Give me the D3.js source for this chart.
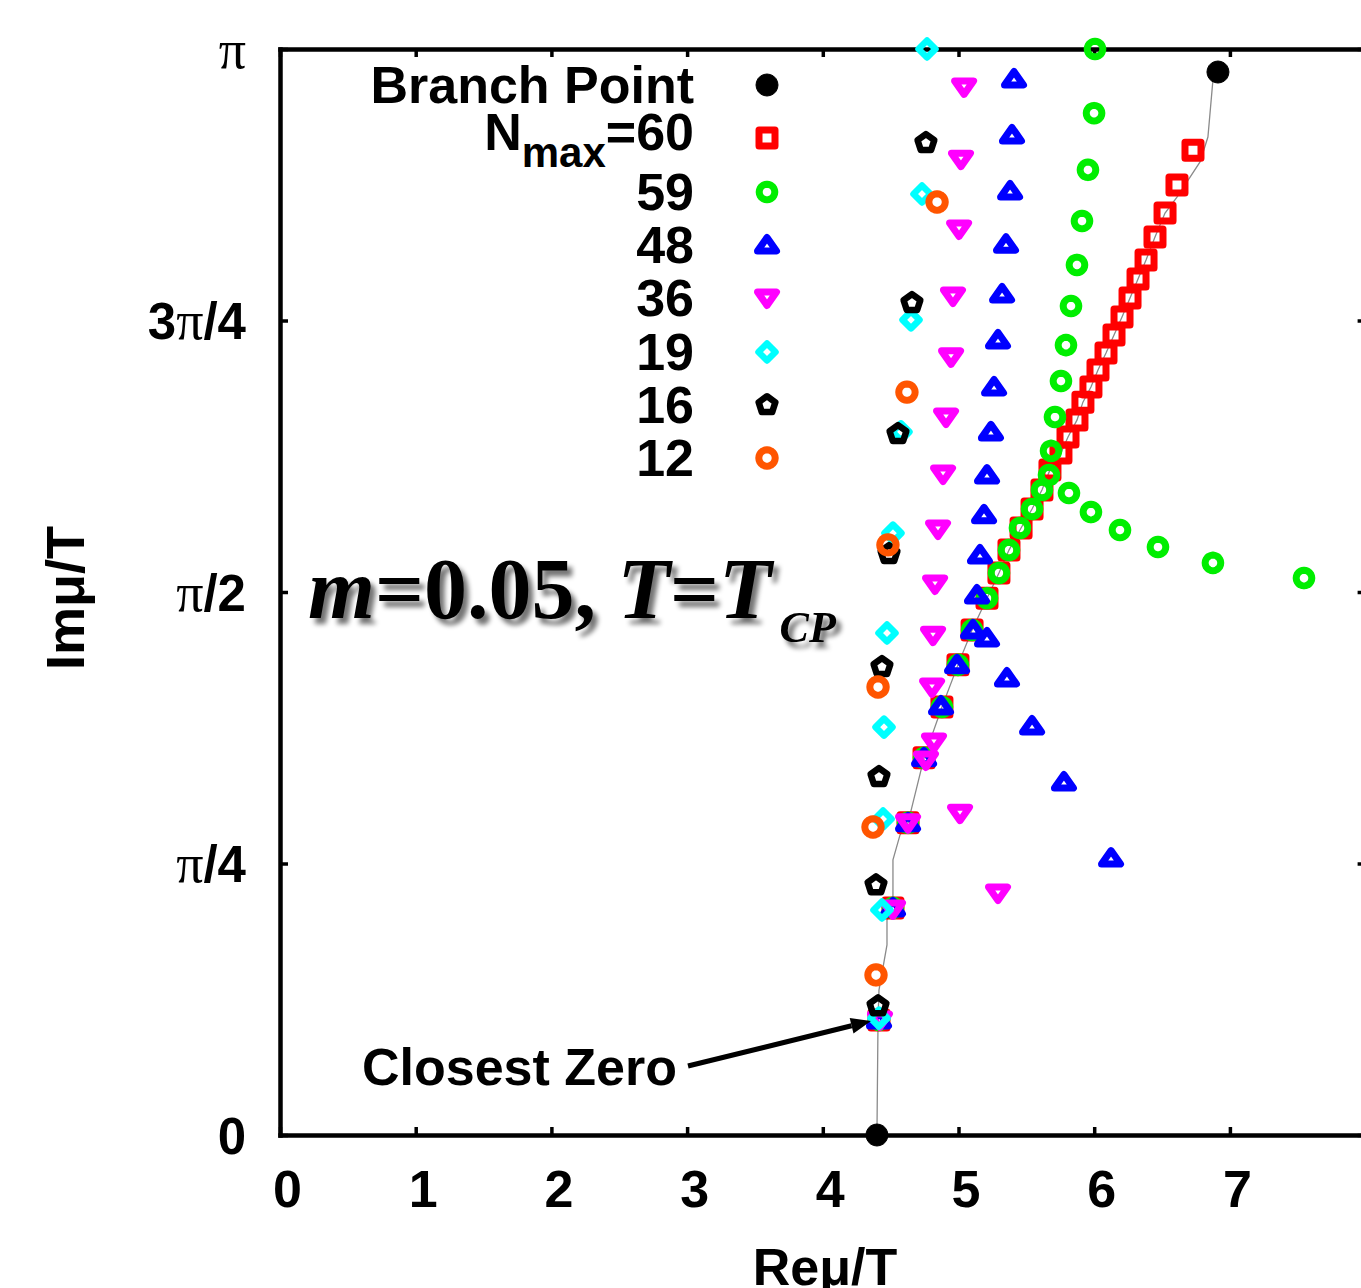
<!DOCTYPE html>
<html><head><meta charset="utf-8">
<script src="https://cdn.jsdelivr.net/npm/d3@7"></script>
<style>body{margin:0;background:#fff}</style>
</head><body><svg id="c" width="1361" height="1288"></svg>
<script>
const PI = Math.PI;
// ---- data (Re mu/T, Im mu/T) ----
const branchRe = [6.912, 4.399];
const branchIm = [3.075, 0];

const n60Re = [4.414,4.517,4.628,4.746,4.878,4.996,5.100,5.210,5.298,5.372,5.461,5.542,5.615,5.674,5.755,5.807,5.873,5.917,5.976,6.028,6.087,6.146,6.205,6.264,6.323,6.382,6.448,6.522,6.610,6.728];
const n60Im = [0.333,0.657,0.903,1.091,1.238,1.360,1.461,1.553,1.626,1.692,1.756,1.811,1.866,1.924,1.973,2.019,2.068,2.120,2.164,2.213,2.262,2.314,2.366,2.421,2.476,2.531,2.598,2.667,2.748,2.849];

const n59Re = [4.414,4.517,4.628,4.746,4.878,4.996,5.100,5.210,5.298,5.372,5.453,5.542,5.615,5.667,5.682,5.711,5.755,5.792,5.829,5.873,5.910,5.954,5.999,6.006,5.814,5.976,6.190,6.470,6.875,7.546];
const n59Im = [0.333,0.657,0.903,1.091,1.238,1.360,1.461,1.553,1.626,1.692,1.756,1.811,1.866,1.909,1.979,2.077,2.181,2.285,2.398,2.517,2.644,2.792,2.956,3.1416,1.857,1.802,1.750,1.701,1.655,1.611];

const n48Re = [4.414,4.517,4.628,4.746,4.871,4.989,5.107,5.136,5.158,5.188,5.210,5.239,5.262,5.291,5.321,5.350,5.380,5.394,5.409,5.210,5.357,5.542,5.777,6.124];
const n48Im = [0.333,0.657,0.903,1.091,1.241,1.360,1.461,1.562,1.678,1.794,1.909,2.034,2.164,2.300,2.433,2.577,2.731,2.893,3.055,1.438,1.322,1.183,1.021,0.801];

const n36Re = [4.421,4.517,4.628,4.760,4.819,4.805,4.812,4.827,4.849,4.886,4.908,4.945,4.959,5.004,5.018,5.041,5.011,5.291];
const n36Im = [0.333,0.654,0.903,1.085,1.137,1.296,1.446,1.594,1.753,1.912,2.077,2.251,2.427,2.621,2.823,3.032,0.931,0.700];

const n19Re = [4.414,4.436,4.444,4.451,4.473,4.517,4.576,4.650,4.731,4.768];
const n19Im = [0.338,0.651,0.914,1.180,1.452,1.741,2.034,2.358,2.722,3.1416];

const n16Re = [4.407,4.392,4.414,4.436,4.488,4.554,4.657,4.760];
const n16Im = [0.373,0.723,1.036,1.354,1.681,2.028,2.407,2.870];

const n12Re = [4.392,4.370,4.407,4.480,4.620,4.842];
const n12Im = [0.463,0.891,1.296,1.707,2.149,2.699];

const curveRe = [4.399,4.407,4.414,4.473,4.473,4.517,4.517,4.569,4.628,4.746,4.878,4.996,5.100,5.210,5.298,5.372,5.461,5.542,5.615,5.674,5.755,5.807,5.873,5.917,5.976,6.028,6.087,6.146,6.205,6.264,6.323,6.382,6.448,6.522,6.610,6.780,6.838,6.875,6.912];
const curveIm = [0,0.333,0.419,0.550,0.622,0.680,0.796,0.868,0.903,1.091,1.238,1.360,1.461,1.553,1.626,1.692,1.756,1.811,1.866,1.924,1.973,2.019,2.068,2.120,2.164,2.213,2.262,2.314,2.366,2.421,2.476,2.531,2.598,2.667,2.713,2.815,2.887,3.052,3.075];

const xTicks = [0,1,2,3,4,5,6,7];
const yTickValues = [0, PI/4, PI/2, 3*PI/4, PI];
const yTickLabels = ["0","π/4","π/2","3π/4","π"];
const legendLabels = ["Branch Point","=60","59","48","36","19","16","12"];

// ---- drawing ----
const svg = d3.select("#c");
const defs = svg.append("defs");
const f = defs.append("filter").attr("id","sh").attr("x","-10%").attr("y","-30%").attr("width","130%").attr("height","180%");
f.append("feGaussianBlur").attr("in","SourceAlpha").attr("stdDeviation",2.5).attr("result","b");
f.append("feOffset").attr("in","b").attr("dx",5).attr("dy",6).attr("result","o");
f.append("feComponentTransfer").attr("in","o").attr("result","o2")
  .append("feFuncA").attr("type","linear").attr("slope",0.55);
const fm = f.append("feMerge");
fm.append("feMergeNode").attr("in","o2");
fm.append("feMergeNode").attr("in","SourceGraphic");

const x = d3.scaleLinear().domain([0,8]).range([280, 280+8*135.7]);
const y = d3.scaleLinear().domain([0,PI]).range([1135, 49]);

const SANS = "'Liberation Sans', Arial, Helvetica, sans-serif";
const SERIF = "'Liberation Serif', 'Times New Roman', serif";

function styleAxis(g){
  g.select(".domain").attr("stroke","#000").attr("stroke-width",4.5).attr("stroke-linecap","square");
  g.selectAll(".tick line").attr("stroke","#000").attr("stroke-width",3.5);
}
// bottom
const gb = svg.append("g").attr("transform","translate(0,1135)")
  .call(d3.axisBottom(x).tickValues(xTicks).tickSizeInner(-8).tickSizeOuter(0).tickFormat(d3.format("d")));
styleAxis(gb);
gb.selectAll(".tick text").attr("y",72).attr("dy",0).attr("x",7)
  .attr("font-family",SANS).attr("font-weight","bold").attr("font-size",52).attr("fill","#000");
// top
const gt = svg.append("g").attr("transform","translate(0,49)")
  .call(d3.axisTop(x).tickValues(xTicks).tickSizeInner(-8).tickSizeOuter(0).tickFormat(""));
styleAxis(gt);
// left
const gl = svg.append("g").attr("transform","translate(280,0)")
  .call(d3.axisLeft(y).tickValues(yTickValues).tickSizeInner(-8).tickSizeOuter(0).tickFormat((d,i)=>""));
styleAxis(gl);
gl.selectAll(".tick text").each(function(d,i){
  const t = d3.select(this).attr("x",-34).attr("dy","0.36em").attr("text-anchor","end")
    .attr("font-family",SANS).attr("font-weight","bold").attr("font-size",51).attr("fill","#000");
  const parts = yTickLabels[i].split(/(π)/).filter(s=>s.length);
  parts.forEach(p=>{
    const ts = t.append("tspan").text(p);
    if(p==="π") ts.attr("font-family",SERIF).attr("font-weight","normal").attr("font-size",54);
  });
});
// right
const gr = svg.append("g").attr("transform","translate("+x(8)+",0)")
  .call(d3.axisRight(y).tickValues(yTickValues).tickSizeInner(-8).tickSizeOuter(0).tickFormat(""));
styleAxis(gr);

// axis titles
svg.append("text").attr("x",825).attr("y",1285).attr("text-anchor","middle")
  .attr("font-family",SANS).attr("font-weight","bold").attr("font-size",52).text("Reμ/T");
svg.append("text").attr("transform","translate(84,598) rotate(-90)").attr("text-anchor","middle")
  .attr("font-family",SANS).attr("font-weight","bold").attr("font-size",54).text("Imμ/T");

// gray curve
const line = d3.line().x(d=>x(d[0])).y(d=>y(d[1]));
svg.append("path").datum(curveRe.map((v,i)=>[v,curveIm[i]]))
  .attr("d",line).attr("fill","none").attr("stroke","#8a8a8a").attr("stroke-width",1.3);

// marker shapes
function poly(n, r, rot){
  const pts=[]; for(let k=0;k<n;k++){const a=rot+2*PI*k/n; pts.push([r*Math.sin(a),-r*Math.cos(a)]);}
  return "M"+pts.map(p=>p[0].toFixed(2)+","+p[1].toFixed(2)).join("L")+"Z";
}
const shapes = {
  dot:   poly(20,11,0),
  square:"M-8,-8H8V8H-8Z",
  circle:poly(24,7.8,0),
  triUp: "M0,-7.5L9.5,6L-9.5,6Z",
  triDn: "M0,7.5L9.5,-6L-9.5,-6Z",
  diamond:"M0,-8.5L8.5,0L0,8.5L-8.5,0Z",
  pent:  poly(5,8.8,0),
  ring:  poly(24,8.2,0)
};
const series = [
  {re:branchRe, im:branchIm, shape:"dot", color:"#000", fill:true, sw:1},
  {re:n60Re, im:n60Im, shape:"square", color:"#ff0000", sw:7},
  {re:n59Re, im:n59Im, shape:"circle", color:"#00ee00", sw:7},
  {re:n48Re, im:n48Im, shape:"triUp", color:"#0000ff", sw:7},
  {re:n36Re, im:n36Im, shape:"triDn", color:"#ff00ff", sw:7},
  {re:n19Re, im:n19Im, shape:"diamond", color:"#00ffff", sw:6.5},
  {re:n16Re, im:n16Im, shape:"pent", color:"#000", sw:6.5},
  {re:n12Re, im:n12Im, shape:"ring", color:"#ff5500", sw:7}
];
series.forEach(s=>{
  svg.append("g").selectAll("path").data(s.re.map((v,i)=>[v,s.im[i]])).join("path")
    .attr("transform",d=>`translate(${x(d[0])},${y(d[1])})`)
    .attr("d",shapes[s.shape])
    .attr("fill", s.fill ? s.color : "#fff")
    .attr("fill-opacity", s.fill ? 1 : 0)
    .attr("stroke", s.color).attr("stroke-width", s.sw).attr("stroke-linejoin","round");
});

// legend
const legY = [85,138,192,245,298,352,405,458];
const legBase = [103,150,210,263,316,370,423,476];
series.forEach((s,i)=>{
  svg.append("path").attr("transform",`translate(767,${legY[i]})`).attr("d",shapes[s.shape])
    .attr("fill", s.fill ? s.color : "#fff").attr("fill-opacity", s.fill?1:0)
    .attr("stroke",s.color).attr("stroke-width",s.sw).attr("stroke-linejoin","round");
  const t = svg.append("text").attr("x",694).attr("y",legBase[i]).attr("text-anchor","end")
    .attr("font-family",SANS).attr("font-weight","bold").attr("font-size",52);
  if(i===1){
    t.append("tspan").text("N");
    t.append("tspan").attr("font-size",42).attr("dy",17).text("max");
    t.append("tspan").attr("dy",-17).text(legendLabels[i]);
  } else t.text(legendLabels[i]);
});

// annotation text with shadow
const mt = svg.append("text").attr("x",308).attr("y",618).attr("filter","url(#sh)")
  .attr("font-family",SERIF).attr("font-weight","bold").attr("font-size",86).attr("fill","#000");
mt.append("tspan").attr("font-style","italic").text("m");
mt.append("tspan").text("=0.05, ");
mt.append("tspan").attr("font-style","italic").text("T");
mt.append("tspan").text("=");
mt.append("tspan").attr("font-style","italic").text("T");
mt.append("tspan").attr("font-style","italic").attr("font-size",44).attr("dx",8).attr("dy",24).text("CP");

// closest zero
svg.append("text").attr("x",362).attr("y",1085).attr("font-family",SANS).attr("font-weight","bold")
  .attr("font-size",52).text("Closest Zero");
const ax0=688, ay0=1066, ax1=871, ay1=1021;
const ang=Math.atan2(ay1-ay0, ax1-ax0), L=20, W=8;
const bx=ax1-L*Math.cos(ang), by=ay1-L*Math.sin(ang);
svg.append("line").attr("x1",ax0).attr("y1",ay0).attr("x2",bx).attr("y2",by)
  .attr("stroke","#000").attr("stroke-width",5);
svg.append("path").attr("d",`M${ax1},${ay1}L${bx - W*Math.sin(ang)},${by + W*Math.cos(ang)}L${bx + W*Math.sin(ang)},${by - W*Math.cos(ang)}Z`)
  .attr("fill","#000");
</script></body></html>
